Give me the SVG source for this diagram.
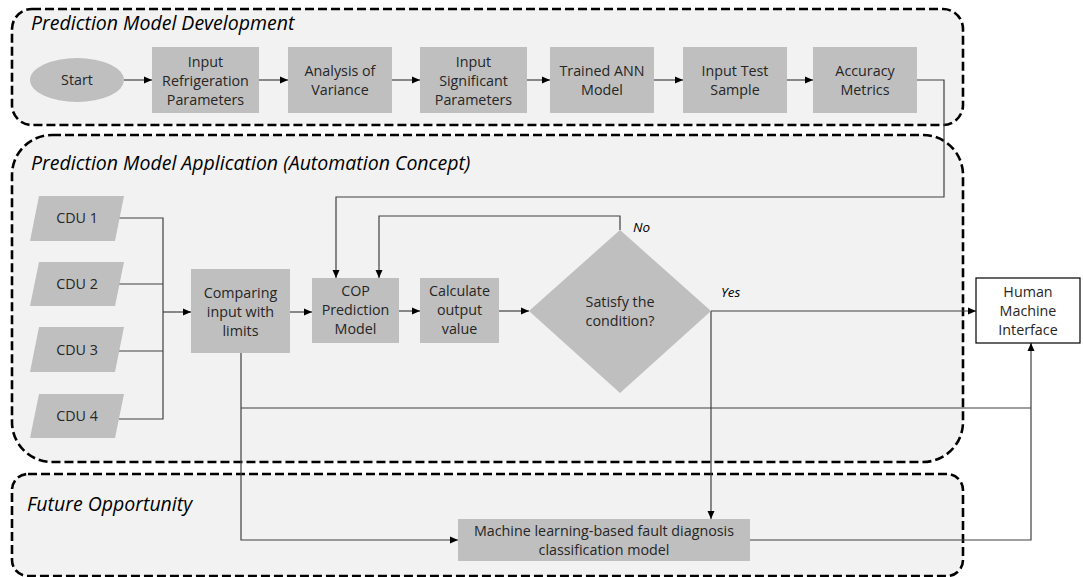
<svg xmlns="http://www.w3.org/2000/svg" width="1083" height="577" viewBox="0 0 1083 577">
<style>
.cont{fill:#f2f2f2;stroke:#000;stroke-width:2.6;stroke-dasharray:9 4}
.box{fill:#bfbfbf}
.t{font-family:"Open Sans","Liberation Sans",sans-serif;font-size:14.3px;fill:#262626;text-anchor:middle}
.title{font-family:"Open Sans","Liberation Sans",sans-serif;font-size:19.5px;font-style:italic;fill:#000}
.lab{font-family:"Open Sans","Liberation Sans",sans-serif;font-size:13.5px;font-style:italic;fill:#000}
.c{fill:none;stroke:#404040;stroke-width:1.2}
</style>
<defs>
<marker id="ah" markerUnits="userSpaceOnUse" markerWidth="8" markerHeight="8" viewBox="0 0 8 8" refX="8" refY="4" orient="auto">
<path d="M0,0.5 L8,4 L0,7.5 Z" fill="#000"/>
</marker>
</defs>
<g id="containers">
<rect class="cont" x="12" y="9" width="951" height="116" rx="20"/>
<rect class="cont" x="12" y="135" width="951" height="327" rx="40"/>
<rect class="cont" x="12" y="474" width="951" height="102" rx="16"/>
<text class="title" x="31" y="30">Prediction Model Development</text>
<text class="title" x="31" y="170">Prediction Model Application (Automation Concept)</text>
<text class="title" x="27" y="511">Future Opportunity</text>
</g>
<g id="connectors">
<line class="c" x1="124" y1="80" x2="152" y2="80" marker-end="url(#ah)"/>
<line class="c" x1="259" y1="80" x2="288" y2="80" marker-end="url(#ah)"/>
<line class="c" x1="392" y1="80" x2="420" y2="80" marker-end="url(#ah)"/>
<line class="c" x1="527" y1="80" x2="550" y2="80" marker-end="url(#ah)"/>
<line class="c" x1="654" y1="80" x2="683" y2="80" marker-end="url(#ah)"/>
<line class="c" x1="787" y1="80" x2="813" y2="80" marker-end="url(#ah)"/>
<polyline class="c" points="917,80 944,80 944,197 336,197 336,278" marker-end="url(#ah)"/>
<polyline class="c" points="119,218 163,218 163,419 119,419"/>
<line class="c" x1="119" y1="284" x2="163" y2="284"/>
<line class="c" x1="119" y1="351" x2="163" y2="351"/>
<line class="c" x1="163" y1="312" x2="191" y2="312" marker-end="url(#ah)"/>
<line class="c" x1="290" y1="312" x2="312" y2="312" marker-end="url(#ah)"/>
<line class="c" x1="399" y1="311" x2="420" y2="311" marker-end="url(#ah)"/>
<line class="c" x1="499" y1="311" x2="529" y2="311" marker-end="url(#ah)"/>
<polyline class="c" points="620,230 620,216 379,216 379,278" marker-end="url(#ah)"/>
<line class="c" x1="711" y1="311" x2="976" y2="311" marker-end="url(#ah)"/>
<line class="c" x1="711" y1="311" x2="711" y2="519" marker-end="url(#ah)"/>
<polyline class="c" points="241,353 241,540 458,540" marker-end="url(#ah)"/>
<line class="c" x1="241" y1="408" x2="1031" y2="408"/>
<polyline class="c" points="750,540 1031,540 1031,343" marker-end="url(#ah)"/>
<text class="lab" x="633" y="232">No</text>
<text class="lab" x="721" y="297">Yes</text>
</g>
<g id="start">
<ellipse class="box" cx="77" cy="80" rx="47" ry="22"/>
<text class="t" x="77" y="85">Start</text>
</g>
<g id="input-refrigeration">
<rect class="box" x="152" y="47" width="107" height="66"/>
<text class="t" x="205.5" y="67">Input</text>
<text class="t" x="205.5" y="86">Refrigeration</text>
<text class="t" x="205.5" y="105">Parameters</text>
</g>
<g id="anova">
<rect class="box" x="288" y="47" width="104" height="66"/>
<text class="t" x="340" y="76">Analysis of</text>
<text class="t" x="340" y="95">Variance</text>
</g>
<g id="input-significant">
<rect class="box" x="420" y="47" width="107" height="66"/>
<text class="t" x="473.5" y="67">Input</text>
<text class="t" x="473.5" y="86">Significant</text>
<text class="t" x="473.5" y="105">Parameters</text>
</g>
<g id="trained-ann">
<rect class="box" x="550" y="47" width="104" height="66"/>
<text class="t" x="602" y="76">Trained ANN</text>
<text class="t" x="602" y="95">Model</text>
</g>
<g id="input-test">
<rect class="box" x="683" y="47" width="104" height="66"/>
<text class="t" x="735" y="76">Input Test</text>
<text class="t" x="735" y="95">Sample</text>
</g>
<g id="accuracy">
<rect class="box" x="813" y="47" width="104" height="66"/>
<text class="t" x="865" y="76">Accuracy</text>
<text class="t" x="865" y="95">Metrics</text>
</g>
<g id="cdu1">
<polygon class="box" points="39,196 124,196 115,241 30,241"/>
<text class="t" x="77" y="223">CDU 1</text>
</g>
<g id="cdu2">
<polygon class="box" points="39,262 124,262 115,306 30,306"/>
<text class="t" x="77" y="289">CDU 2</text>
</g>
<g id="cdu3">
<polygon class="box" points="39,327 124,327 115,372 30,372"/>
<text class="t" x="77" y="355">CDU 3</text>
</g>
<g id="cdu4">
<polygon class="box" points="39,394 124,394 115,438 30,438"/>
<text class="t" x="77" y="421">CDU 4</text>
</g>
<g id="comparing">
<rect class="box" x="191" y="269" width="99" height="84"/>
<text class="t" x="240.5" y="298">Comparing</text>
<text class="t" x="240.5" y="317">input with</text>
<text class="t" x="240.5" y="336">limits</text>
</g>
<g id="cop">
<rect class="box" x="312" y="278" width="87" height="65"/>
<text class="t" x="355.5" y="296">COP</text>
<text class="t" x="355.5" y="315">Prediction</text>
<text class="t" x="355.5" y="334">Model</text>
</g>
<g id="calculate">
<rect class="box" x="420" y="278" width="79" height="65"/>
<text class="t" x="459.5" y="296">Calculate</text>
<text class="t" x="459.5" y="315">output</text>
<text class="t" x="459.5" y="334">value</text>
</g>
<g id="decision">
<polygon class="box" points="620,230 711,311 620,393 529,311"/>
<text class="t" x="620" y="307">Satisfy the</text>
<text class="t" x="620" y="326">condition?</text>
</g>
<g id="hmi">
<rect x="976" y="278" width="104" height="65" fill="#fff" stroke="#000" stroke-width="1.2"/>
<text class="t" x="1028" y="297">Human</text>
<text class="t" x="1028" y="316">Machine</text>
<text class="t" x="1028" y="335">Interface</text>
</g>
<g id="ml-model">
<rect class="box" x="458" y="519" width="292" height="42"/>
<text class="t" x="604" y="536">Machine learning-based fault diagnosis</text>
<text class="t" x="604" y="555">classification model</text>
</g>
</svg>
